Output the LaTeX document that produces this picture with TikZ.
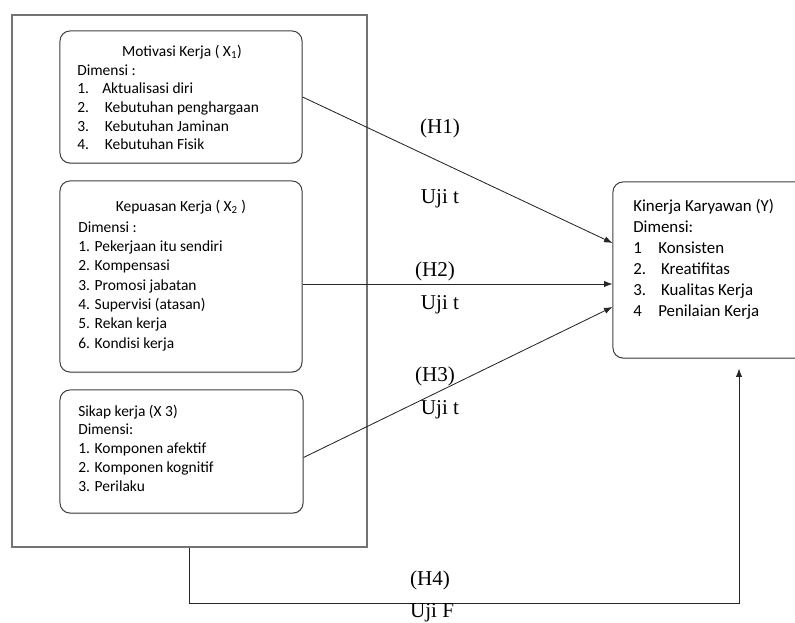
\documentclass[tikz,border=0pt]{standalone}
\usepackage{fontspec}
\setmainfont{Liberation Serif}
\newfontfamily\boxfont{Carlito}
\usetikzlibrary{arrows.meta,shadows}

\newcommand{\num}[1]{\makebox[0.625cm][l]{#1}}

\tikzset{
  frame/.style={draw=black!55, line width=0.9pt, fill=white,
    drop shadow={shadow xshift=0.5pt, shadow yshift=-0.8pt, fill=black!25}},
  dimbox/.style={draw=black!75, line width=0.7pt, rounded corners=0.25cm, fill=white,
    drop shadow={shadow xshift=0.4pt, shadow yshift=-0.7pt, fill=black!25}},
  boxtext/.style={inner sep=0pt, align=left, anchor=north west,
    font=\boxfont\fontsize{11}{#1}\selectfont},
  boxtext/.default=13.2pt,
  hyp/.style={inner sep=0pt, font=\fontsize{15}{17}\selectfont},
  link/.style={draw=black!85, line width=0.6pt, -{Latex[length=6pt,width=4.5pt]}}
}

\begin{document}
\begin{tikzpicture}[x=0.025cm,y=-0.025cm]
   \useasboundingbox (0,0) rectangle (795,623);
   \node[frame, minimum width=8.875cm, minimum height=13.3cm] (frame) at (189.5,281) {};
   \node[dimbox, minimum width=6.05cm, minimum height=3.3cm] (mot) at (181,97) {};
   \node[dimbox, minimum width=6.05cm, minimum height=4.775cm] (kep) at (181,276.5) {};
   \node[dimbox, minimum width=6.075cm, minimum height=3.075cm] (sik) at (181.5,451.5) {};
   \node[dimbox, minimum width=6.3cm, minimum height=4.4cm] (kin) at (739,270) {};

   \node[boxtext, anchor=center] (motT) at (182,52) {Motivasi Kerja ( X\textsubscript{1})};
   \node[boxtext] (motL) at (77,64.5) {Dimensi :\\
     \num{1.}Aktualisasi diri\\
     \num{2.}\,Kebutuhan penghargaan\\
     \num{3.}\,Kebutuhan Jaminan\\
     \num{4.}\,Kebutuhan Fisik};

   \node[boxtext, anchor=center] (kepT) at (181,207) {Kepuasan Kerja ( X\textsubscript{2} )};
   \node[boxtext=13.7pt] (kepL) at (78,221.5) {Dimensi :\\
     1. Pekerjaan itu sendiri\\
     2. Kompensasi\\
     3. Promosi jabatan\\
     4. Supervisi (atasan)\\
     5. Rekan kerja\\
     6. Kondisi kerja};

   \node[boxtext=13.4pt] (sikL) at (78,404.5) {Sikap kerja (X 3)\\
     Dimensi:\\
     1. Komponen afektif\\
     2. Komponen  kognitif\\
     3. Perilaku};

   \node[boxtext, font=\boxfont\fontsize{12}{15}\selectfont] (kinL) at (633,198.5) {Kinerja Karyawan (Y)\\
     Dimensi:\\
     \num{1}Konsisten\\
     \num{2.}\,Kreatifitas\\
     \num{3.}\,Kualitas Kerja\\
     \num{4}Penilaian Kerja};

   \coordinate (in1) at ([yshift=0.675cm]kin.west);
   \coordinate (in2) at ([yshift=-0.35cm]kin.west);
   \coordinate (in3) at ([yshift=-0.925cm]kin.west);

   \draw[link] (mot.east) -- (in1);
   \draw[link] (kep.east |- in2) -- (in2);
   \draw[link] ([yshift=-0.15cm]sik.east) -- (in3);
   \draw[link, shorten >=0.25cm] (frame.south) -- ++(0,56) -| (kin.south);

   \node[hyp] (h1) at (440,128) {(H1)};
   \node[hyp] (t1) at (440,199) {Uji t};
   \node[hyp] (h2) at (435,271) {(H2)};
   \node[hyp] (t2) at (440,305) {Uji t};
   \node[hyp] (h3) at (435,376) {(H3)};
   \node[hyp] (t3) at (440,410) {Uji t};
   \node[hyp] (h4) at (430,580) {(H4)};
   \node[hyp] (f4) at (432,613) {Uji F};
\end{tikzpicture}
\end{document}
